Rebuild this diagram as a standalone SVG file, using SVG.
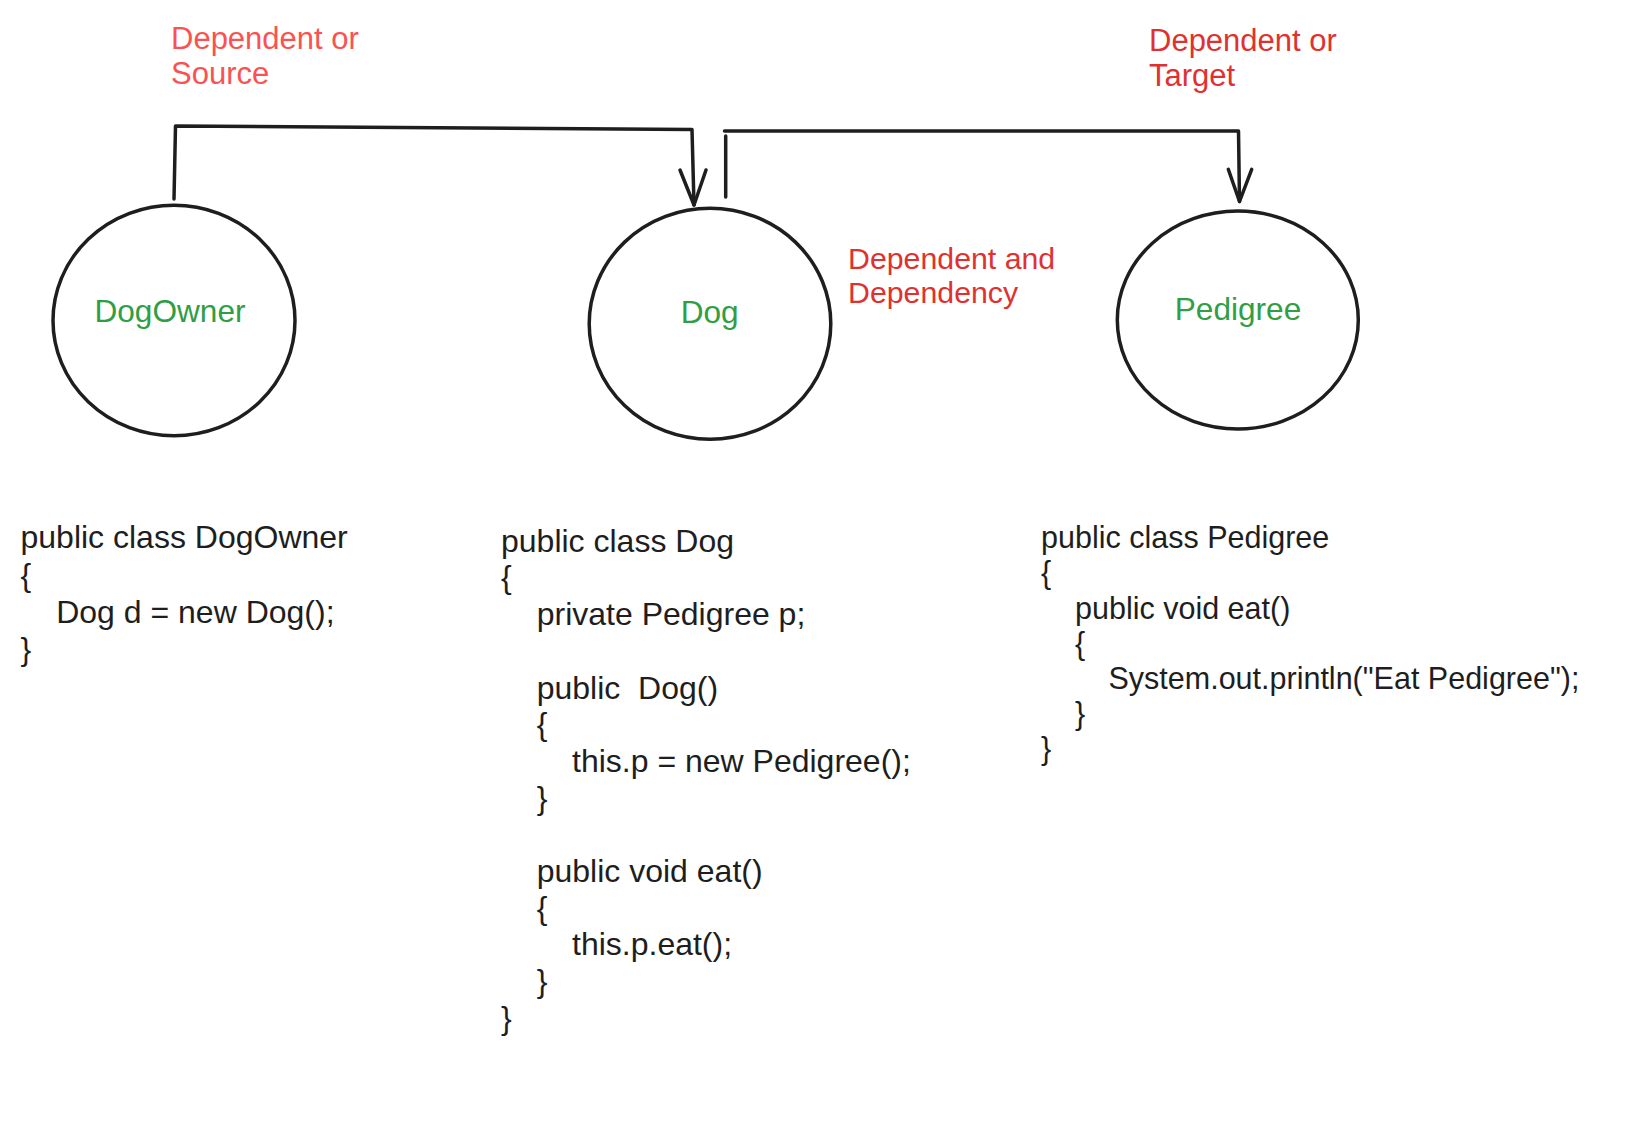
<svg xmlns="http://www.w3.org/2000/svg" width="1644" height="1132" viewBox="0 0 1644 1132">
<style>
.bg{fill:#ffffff}
.node{fill:none;stroke:#1e1e1e;stroke-width:3.5}
.conn{fill:none;stroke:#1e1e1e;stroke-width:3.5;stroke-linecap:round;stroke-linejoin:round}
.nl{font-family:"Liberation Sans",Arial,Helvetica,sans-serif;font-size:31.6px;fill:#2f9e44;text-anchor:middle}
.lbl{font-family:"Liberation Sans",Arial,Helvetica,sans-serif;font-size:31px;fill:#e03131}
.lbl2{fill:#fa5252}
.code{font-family:"Liberation Sans",Arial,Helvetica,sans-serif;font-size:32px;fill:#1e1e1e}
.code2{font-size:30.5px}
</style>
<rect class="bg" x="0" y="0" width="1644" height="1132"/>

<g id="connectors">
  <g id="edge-dogowner-dog">
    <path class="conn" d="M174,199 L175.5,126 L692,129.5 L694,205"/>
    <path class="conn" d="M680,170 L694,205 L706,170"/>
  </g>
  <g id="edge-dog-pedigree">
    <path class="conn" d="M725.7,197 L725.7,136"/>
    <path class="conn" d="M724.5,131 L1238.5,131 L1239.5,201.5"/>
    <path class="conn" d="M1228.3,169.3 L1239.5,201.5 L1251.7,169.3"/>
  </g>
</g>

<g id="node-dogowner">
  <ellipse class="node" cx="174" cy="320.5" rx="121" ry="115.3"/>
  <text class="nl" x="170" y="321.7">DogOwner</text>
</g>
<g id="node-dog">
  <ellipse class="node" cx="710" cy="323.8" rx="120.8" ry="115.5"/>
  <text class="nl" x="709.7" y="322.7">Dog</text>
</g>
<g id="node-pedigree">
  <ellipse class="node" cx="1237.8" cy="320" rx="120.5" ry="109"/>
  <text class="nl" x="1238" y="320">Pedigree</text>
</g>

<g id="label-source">
  <text class="lbl lbl2" x="171" y="49.3">Dependent or</text>
  <text class="lbl lbl2" x="171" y="84">Source</text>
</g>
<g id="label-target">
  <text class="lbl" x="1149" y="50.5">Dependent or</text>
  <text class="lbl" x="1149" y="85.5">Target</text>
</g>
<g id="label-dependency">
  <text class="lbl" x="848" y="269.3" style="font-size:30.3px">Dependent and</text>
  <text class="lbl" x="848" y="303.3" style="font-size:30.3px">Dependency</text>
</g>

<g id="code-dogowner">
  <text class="code" x="20.5" y="548.3">public class DogOwner</text>
  <text class="code" x="20.5" y="585.5">{</text>
  <text class="code" x="56.2" y="622.7">Dog d = new Dog();</text>
  <text class="code" x="20.5" y="659.9">}</text>
</g>

<g id="code-dog">
  <text class="code" x="501" y="551.7">public class Dog</text>
  <text class="code" x="501" y="588.4">{</text>
  <text class="code" x="536.7" y="625.1">private Pedigree p;</text>
  <text class="code" x="536.7" y="698.5" xml:space="preserve">public  Dog()</text>
  <text class="code" x="536.7" y="735.2">{</text>
  <text class="code" x="572" y="771.9">this.p = new Pedigree();</text>
  <text class="code" x="536.7" y="808.6">}</text>
  <text class="code" x="536.7" y="882">public void eat()</text>
  <text class="code" x="536.7" y="918.7">{</text>
  <text class="code" x="572" y="955.4">this.p.eat();</text>
  <text class="code" x="536.7" y="992.1">}</text>
  <text class="code" x="501" y="1028.8">}</text>
</g>

<g id="code-pedigree">
  <text class="code code2" x="1041" y="548.3">public class Pedigree</text>
  <text class="code code2" x="1041" y="583.4">{</text>
  <text class="code code2" x="1075" y="618.5">public void eat()</text>
  <text class="code code2" x="1075" y="653.6">{</text>
  <text class="code code2" x="1108.5" y="688.7">System.out.println("Eat Pedigree");</text>
  <text class="code code2" x="1075" y="723.8">}</text>
  <text class="code code2" x="1041" y="758.9">}</text>
</g>
</svg>
